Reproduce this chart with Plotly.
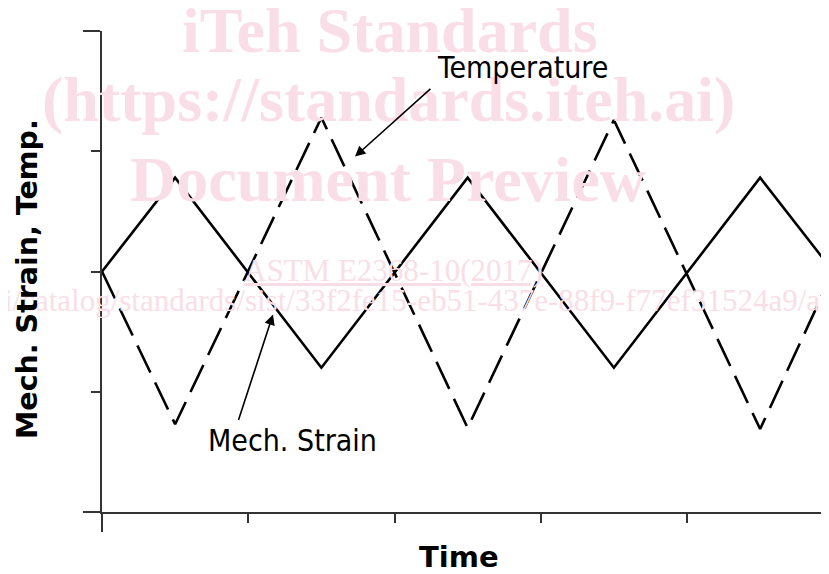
import plotly.graph_objects as go

# ---- data ----
time_pts = [0, 0.5, 1.5, 2.5, 3.5, 4.5, 5.0]
mech_strain = [0, 0.78, -0.80, 0.78, -0.80, 0.78, 0]
temperature = [0, -1.27, 1.28, -1.30, 1.26, -1.31, 0]

x_major_ticks = [0]
x_minor_ticks = [1, 2, 3, 4, 5]
y_major_ticks = [-2, 2]
y_minor_ticks = [-1, 0, 1]

# page body has an 8px margin; figure sized to fit inside the 829x574 window
OFF = 8
W, H = 829 - OFF, 574 - OFF
# plot area in screen pixels: x 102..829, y 31..512
ML, MR, MT, MB = 102 - OFF, 0, 31 - OFF, H - (512 - OFF)
PW = W - ML - MR
PH = H - MT - MB


def px(xs):
    return (xs - OFF - ML) / PW


def py(ys):
    return (H - MB - (ys - OFF)) / PH


fig = go.Figure()
fig.add_trace(go.Scatter(x=time_pts, y=temperature, mode="lines",
                         line=dict(color="black", width=2.6, dash="30px,11px"),
                         name="Temperature", showlegend=False))
fig.add_trace(go.Scatter(x=time_pts, y=mech_strain, mode="lines",
                         line=dict(color="black", width=2.6),
                         name="Mech. Strain", showlegend=False))

axis_col = "#333333"
fig.update_xaxes(range=[0, PW / 146.25], showgrid=False, zeroline=False,
                 showline=True, linecolor=axis_col, linewidth=2,
                 tickmode="array", tickvals=x_major_ticks, ticktext=[""],
                 ticks="outside", ticklen=18, tickwidth=2, tickcolor=axis_col,
                 showticklabels=False,
                 minor=dict(tickmode="array", tickvals=x_minor_ticks,
                            ticks="outside", ticklen=9, tickwidth=2,
                            tickcolor=axis_col, showgrid=False))
fig.update_yaxes(range=[-2, 2], showgrid=False, zeroline=False,
                 showline=True, linecolor=axis_col, linewidth=2,
                 tickmode="array", tickvals=y_major_ticks, ticktext=["", ""],
                 ticks="outside", ticklen=17, tickwidth=2, tickcolor=axis_col,
                 showticklabels=False,
                 minor=dict(tickmode="array", tickvals=y_minor_ticks,
                            ticks="outside", ticklen=9, tickwidth=2,
                            tickcolor=axis_col, showgrid=False))

wm = "rgb(250,222,231)"
serif = "Liberation Serif, Times New Roman, serif"
anns = [
    dict(text="<b>iTeh Standards</b>", x=px(390), y=py(30), font=dict(size=64, family=serif, color=wm)),
    dict(text="<b>(https://standards.iteh.ai)</b>", x=px(388), y=py(100), font=dict(size=64, family=serif, color=wm)),
    dict(text="<b>Document Preview</b>", x=px(388), y=py(180), font=dict(size=64, family=serif, color=wm)),
    dict(text="<u>ASTM E2368-10(2017)</u>", x=px(393), y=py(270), font=dict(size=31, family=serif, color=wm)),
    dict(text="https://standards.iteh.ai/catalog/standards/sist/33f2fe15-eb51-437e-88f9-f77ef31524a9/astm-e2368-102017",
         x=px(-277), y=py(300), xanchor="left", font=dict(size=31, family=serif, color=wm)),
]
for a in anns:
    a.setdefault("xanchor", "center")
    fig.add_annotation(xref="paper", yref="paper", yanchor="middle", showarrow=False, **a)

label_font = "DejaVu Sans Condensed, DejaVu Sans, sans-serif"
fig.add_annotation(xref="paper", yref="paper", x=px(522), y=py(68), text="Temperature",
                   xanchor="center", yanchor="middle",
                   showarrow=False, font=dict(size=30, family=label_font, color="black"))
fig.add_annotation(xref="paper", yref="paper", x=px(292), y=py(440), text="Mech. Strain",
                   xanchor="center", yanchor="middle",
                   showarrow=False, font=dict(size=30, family=label_font, color="black"))

# arrows (data coords)
fig.add_annotation(x=1.730, y=0.956, ax=2.256, ay=1.530, xref="x", yref="y", axref="x", ayref="y",
                   text="", showarrow=True, arrowhead=2, arrowsize=1.3, arrowwidth=1.6, arrowcolor="black")
fig.add_annotation(x=1.169, y=-0.358, ax=0.930, ay=-1.247, xref="x", yref="y", axref="x", ayref="y",
                   text="", showarrow=True, arrowhead=2, arrowsize=1.3, arrowwidth=1.6, arrowcolor="black")

bold_font = "DejaVu Sans, Verdana, sans-serif"
fig.add_annotation(xref="paper", yref="paper", x=px(27), y=py(279), text="<b>Mech. Strain, Temp.</b>",
                   xanchor="center", yanchor="middle",
                   textangle=-90, showarrow=False, font=dict(size=28.5, family=bold_font, color="black"))
fig.add_annotation(xref="paper", yref="paper", x=px(459), y=py(557), text="<b>Time</b>",
                   xanchor="center", yanchor="middle",
                   showarrow=False, font=dict(size=29, family=bold_font, color="black"))

fig.update_layout(width=W, height=H, margin=dict(l=ML, r=MR, t=MT, b=MB),
                  paper_bgcolor="white", plot_bgcolor="white", showlegend=False)

fig.write_html("out.html")
